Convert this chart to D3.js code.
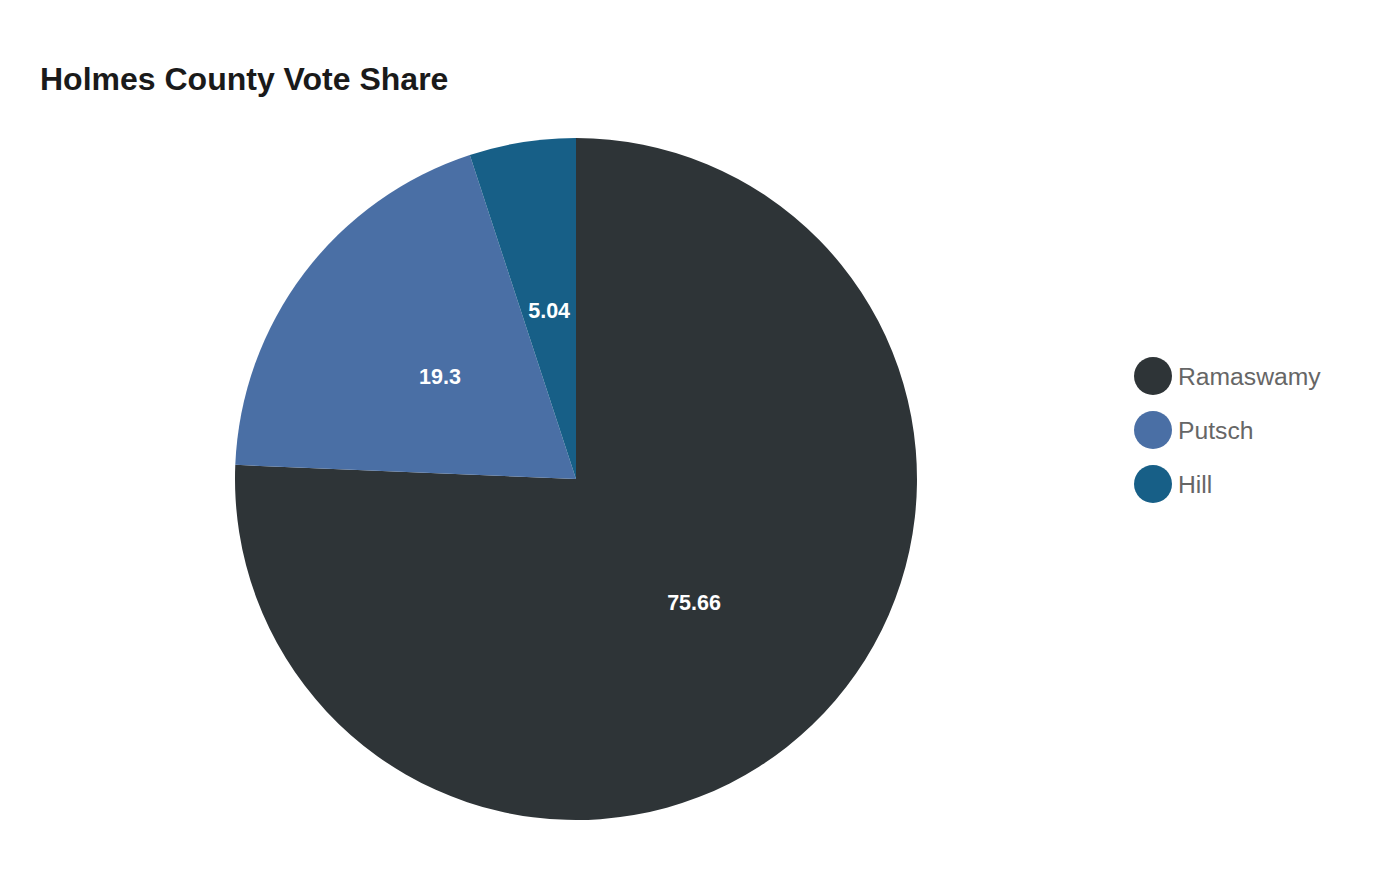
<!DOCTYPE html>
<html>
<head>
<meta charset="utf-8">
<script src="https://cdn.jsdelivr.net/npm/d3@7"></script>
<style>
  html, body { margin: 0; padding: 0; background: #fff; }
  svg { display: block; font-family: "Liberation Sans", Arial, sans-serif; }
</style>
</head>
<body>
<svg id="chart" width="1400" height="880"></svg>
<script>
const categories = ["Ramaswamy", "Putsch", "Hill"];
const values = [75.66, 19.3, 5.04];
const colors = ["#2e3437", "#4a6fa5", "#175f87"];
const title = "Holmes County Vote Share";

const svg = d3.select("#chart");
const data = categories.map((c, i) => ({ name: c, value: values[i], color: colors[i] }));

svg.append("text")
  .attr("x", 40).attr("y", 90)
  .attr("font-size", 32).attr("font-weight", "bold")
  .attr("fill", "#1a1a1a")
  .text(title);

const cx = 576, cy = 479, r = 341;
const pie = d3.pie().value(d => d.value).sort(null);
const arc = d3.arc().innerRadius(0).outerRadius(r);
const arcs = pie(data);

const g = svg.append("g").attr("transform", `translate(${cx},${cy})`);
g.selectAll("path").data(arcs).enter().append("path")
  .attr("d", arc).attr("fill", d => d.data.color);

g.selectAll("text.lbl").data(arcs).enter().append("text")
  .attr("class", "lbl")
  .attr("transform", d => `translate(${arc.centroid(d)})`)
  .attr("text-anchor", "middle").attr("dy", "0.35em")
  .attr("font-size", 21.5).attr("font-weight", "bold")
  .attr("fill", "#fff")
  .text(d => d.data.value);

const lg = svg.append("g");
const items = lg.selectAll("g").data(data).enter().append("g")
  .attr("transform", (d, i) => `translate(1153, ${376 + i * 54})`);
items.append("circle").attr("r", 19).attr("fill", d => d.color);
items.append("text").attr("x", 25).attr("dy", "0.35em")
  .attr("font-size", 24.7).attr("fill", "#666")
  .text(d => d.name);
</script>
</body>
</html>
